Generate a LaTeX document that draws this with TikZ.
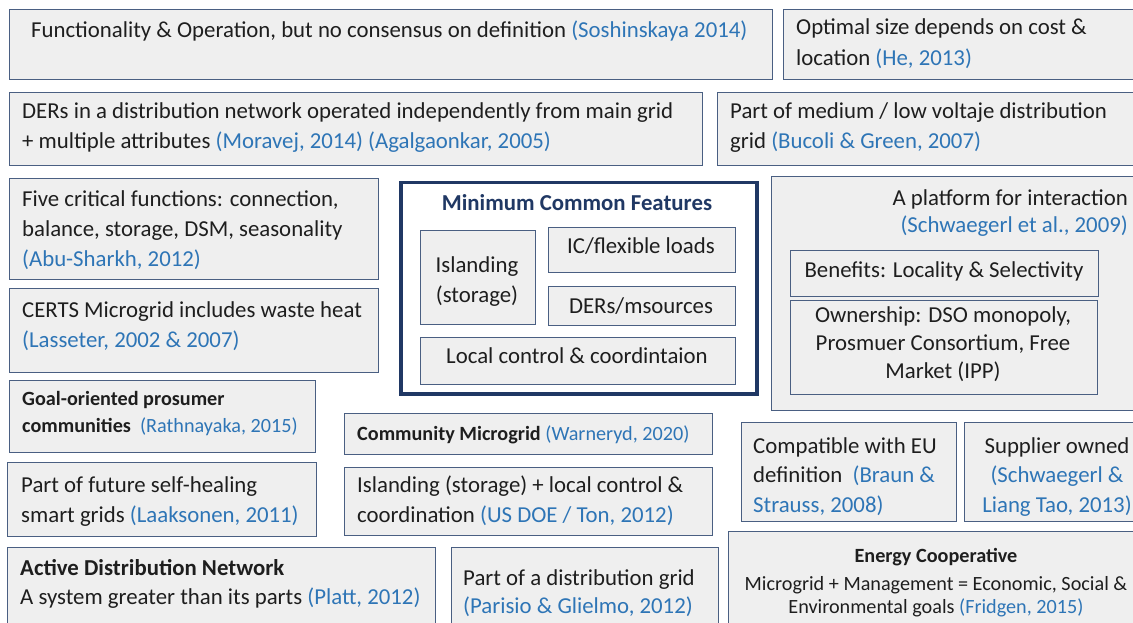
\documentclass[tikz,border=0pt]{standalone}
\usepackage{fontspec}
\setmainfont{Carlito}
\definecolor{boxfill}{HTML}{EFEFEF}
\definecolor{boxline}{HTML}{4A5F82}
\definecolor{navy}{HTML}{203864}
\definecolor{citeblue}{HTML}{2E75B6}
\definecolor{ink}{HTML}{1E1E1E}
\newcommand\cit[1]{\textcolor{citeblue}{#1}}
\tikzset{
  box/.style={draw=boxline, fill=boxfill, line width=1.4pt, inner sep=0pt, anchor=north west},
  mcfbox/.style={draw=navy, fill=white, line width=3.5pt, inner sep=0pt, anchor=north west},
  txt/.style={inner sep=0pt, text=ink, font=\fontsize{22.8}{27}\selectfont, anchor=base west},
  ctxt/.style={txt, anchor=base},
  rtxt/.style={txt, anchor=base east},
  small/.style={font=\fontsize{20.2}{24}\selectfont},
}
\begin{document}
\begin{tikzpicture}[x=1pt,y=-1pt]
\useasboundingbox (0,0) rectangle (1133,623);
\clip (0,0) rectangle (1133,623);
\fill[white] (0,0) rectangle (1133,623);
% boxes
\node[box, minimum width=763pt, minimum height=70pt] (func) at (9,9) {};
\node[box, minimum width=362pt, minimum height=70pt] (opt) at (783,9) {};
\node[box, minimum width=693pt, minimum height=73pt] (ders) at (9,92) {};
\node[box, minimum width=428pt, minimum height=73pt] (med) at (717,92) {};
\node[box, minimum width=369pt, minimum height=101pt] (five) at (9,178) {};
\node[box, minimum width=369pt, minimum height=84pt] (certs) at (9,288) {};
\node[box, minimum width=306pt, minimum height=72pt] (goal) at (9,380) {};
\node[box, minimum width=309pt, minimum height=74pt] (heal) at (7,462) {};
\node[box, minimum width=428pt, minimum height=93pt] (adn) at (7,547) {};
\node[mcfbox, minimum width=356pt, minimum height=211pt] (mcf) at (399,181) {};
\node[box, minimum width=115pt, minimum height=94pt] (isl) at (420,230) {};
\node[box, minimum width=187pt, minimum height=45pt] (ic) at (548,227) {};
\node[box, minimum width=187pt, minimum height=39pt] (dms) at (548,286) {};
\node[box, minimum width=315pt, minimum height=47pt] (loc) at (420,337) {};
\node[box, minimum width=374pt, minimum height=234pt] (plat) at (771,176) {};
\node[box, minimum width=308pt, minimum height=46pt] (ben) at (790,250) {};
\node[box, minimum width=307pt, minimum height=94pt] (own) at (790,300) {};
\node[box, minimum width=368pt, minimum height=41pt] (comm) at (344,413) {};
\node[box, minimum width=368pt, minimum height=68pt] (isl2) at (344,467) {};
\node[box, minimum width=267pt, minimum height=93pt] (pdg) at (451,547) {};
\node[box, minimum width=215pt, minimum height=99pt] (eu) at (741,422) {};
\node[box, minimum width=181pt, minimum height=99pt] (sup) at (964,422) {};
\node[box, minimum width=417pt, minimum height=109pt] (coop) at (728,531) {};
% texts
\node[txt] (funcA) at (31,38) {Functionality \& Operation, but no consensus on definition \cit{(Soshinskaya 2014)}};
\node[txt] (optA) at (796,35) {Optimal size depends on cost \&};
\node[txt] (optB) at (796,66) {location \cit{(He, 2013)}};
\node[txt] (dersA) at (22,119) {DERs in a distribution network operated independently from main grid};
\node[txt] (dersB) at (22,149) {+ multiple attributes \cit{(Moravej, 2014) (Agalgaonkar, 2005)}};
\node[txt] (medA) at (730,119) {Part of medium / low voltaje distribution};
\node[txt] (medB) at (730,149) {grid \cit{(Bucoli \& Green, 2007)}};
\node[txt] (fiveA) at (22,206) {Five critical functions: connection,};
\node[txt] (fiveB) at (22,236) {balance, storage, DSM, seasonality};
\node[txt] (fiveC) at (22,266) {\cit{(Abu-Sharkh, 2012)}};
\node[txt] (certsA) at (22,317) {CERTS Microgrid includes waste heat};
\node[txt] (certsB) at (22,347) {\cit{(Lasseter, 2002 \& 2007)}};
\node[txt, small] (goalA) at (22,405) {\textbf{Goal-oriented prosumer}};
\node[txt, small] (goalB) at (22,432) {\textbf{communities}\ \ \cit{(Rathnayaka, 2015)}};
\node[txt] (healA) at (21,492) {Part of future self-healing};
\node[txt] (healB) at (21,522) {smart grids \cit{(Laaksonen, 2011)}};
\node[txt] (adnA) at (20,575) {\textbf{Active Distribution Network}};
\node[txt] (adnB) at (20,604) {A system greater than its parts \cit{(Platt, 2012)}};
\node[ctxt, text=navy] (mcfA) at (577,210) {\textbf{Minimum Common Features}};
\node[ctxt] (islA) at (477,272) {Islanding};
\node[ctxt] (islB) at (477,302) {(storage)};
\node[ctxt] (icA) at (641,253) {IC/flexible loads};
\node[ctxt] (dmsA) at (641,313) {DERs/msources};
\node[ctxt] (locA) at (577,363) {Local control \& coordintaion};
\node[rtxt] (platA) at (1128,205) {A platform for interaction};
\node[rtxt] (platB) at (1128,233) {\cit{(Schwaegerl et al., 2009)}};
\node[ctxt] (benA) at (944,277) {Benefits: Locality \& Selectivity};
\node[ctxt] (ownA) at (943,322) {Ownership: DSO monopoly,};
\node[ctxt] (ownB) at (943,350) {Prosmuer Consortium, Free};
\node[ctxt] (ownC) at (943,378) {Market (IPP)};
\node[txt, small] (commA) at (357,440) {\textbf{Community Microgrid} \cit{(Warneryd, 2020)}};
\node[txt] (isl2A) at (357,492) {Islanding (storage) + local control \&};
\node[txt] (isl2B) at (357,522) {coordination \cit{(US DOE / Ton, 2012)}};
\node[txt] (pdgA) at (463,585) {Part of a distribution grid};
\node[txt] (pdgB) at (463,613) {\cit{(Parisio \& Glielmo, 2012)}};
\node[txt] (euA) at (753,453) {Compatible with EU};
\node[txt] (euB) at (753,482) {definition\ \ \cit{(Braun \&}};
\node[txt] (euC) at (753,512) {\cit{Strauss, 2008)}};
\node[ctxt] (supA) at (1057,453) {Supplier owned};
\node[ctxt] (supB) at (1057,482) {\cit{(Schwaegerl \&}};
\node[ctxt] (supC) at (1057,512) {\cit{Liang Tao, 2013)}};
\node[ctxt, small] (coopA) at (936,562) {\textbf{Energy Cooperative}};
\node[ctxt, small] (coopB) at (936,590) {Microgrid + Management = Economic, Social \&};
\node[ctxt, small] (coopC) at (936,613) {Environmental goals \cit{(Fridgen, 2015)}};
\end{tikzpicture}
\end{document}
